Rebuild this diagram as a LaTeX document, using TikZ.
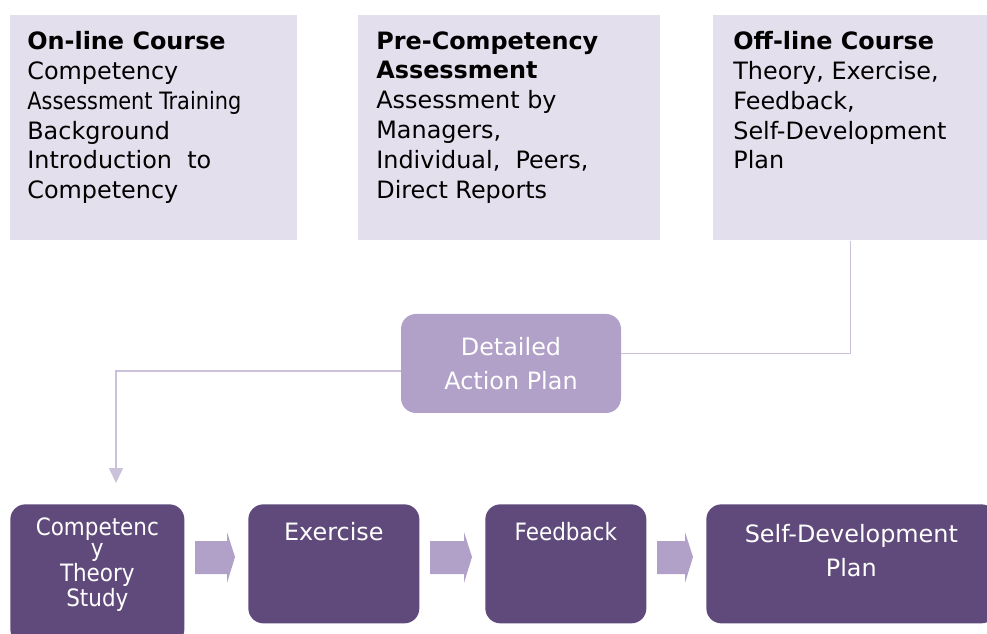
\documentclass[tikz,border=0pt]{standalone}
\usepackage{fontspec}
\setmainfont{DejaVu Sans}
\newfontfamily\condfont{DejaVu Sans Condensed}
\usetikzlibrary{positioning,arrows.meta,calc}
\definecolor{lavlight}{HTML}{E4DFEC}
\definecolor{lavmid}{HTML}{B1A0C7}
\definecolor{lavline}{HTML}{CCC1DA}
\definecolor{plumdark}{HTML}{604A7B}
\newlength\pxu
\setlength\pxu{0.02cm}
\tikzset{
  infobox/.style={fill=lavlight, anchor=north west, inner sep=0pt},
  infotext/.style={anchor=north west, inner sep=0pt, align=left, text=black,
    font=\fontsize{13.6}{17}\selectfont},
  planbox/.style={fill=lavmid, rounded corners=15\pxu, inner sep=0pt, text=white,
    align=center, minimum width=220\pxu, minimum height=99\pxu,
    font=\fontsize{13.6}{19.4}\selectfont},
  stepbox/.style={fill=plumdark, rounded corners=15\pxu, anchor=north west, inner sep=0pt},
  steptext/.style={inner sep=0pt, text=white, align=center, font=\fontsize{13.6}{19.6}\selectfont},
  link/.style={draw=lavline, line width=0.9pt},
}
\begin{document}
\begin{tikzpicture}[x=\pxu, y=-\pxu]
  \clip (0,0) rectangle (987,634);
  \fill[white] (0,0) rectangle (987,634);
  % top boxes
  \node[infobox, minimum width=287\pxu, minimum height=225\pxu] (online) at (10,15) {};
  \node[infobox, minimum width=302\pxu, minimum height=225\pxu] (precomp) at (358,15) {};
  \node[infobox, minimum width=274\pxu, minimum height=225\pxu] (offline) at (713,15) {};
  \node[infotext, below right=16\pxu and 17\pxu of online.north west] (onlinetxt)
    {\textbf{On-line Course}\\Competency\\{\condfont\resizebox{214\pxu}{\height}{Assessment Training}}\\Background\\Introduction~~to\\Competency};
  \node[infotext, below right=16\pxu and 18\pxu of precomp.north west] (precomptxt)
    {\textbf{Pre-Competency}\\\textbf{Assessment}\\Assessment by\\Managers,\\Individual,~~Peers,\\Direct Reports};
  \node[infotext, below right=16\pxu and 20\pxu of offline.north west] (offlinetxt)
    {\textbf{Off-line Course}\\Theory, Exercise,\\Feedback,\\Self-Development\\Plan};
  % action plan
  \node[planbox] (action) at (511,363.5) {Detailed\\Action Plan};
  % bottom steps
  \node[stepbox, minimum width=174\pxu, minimum height=140\pxu] (theory) at (10,504) {};
  \node[stepbox, minimum width=171\pxu, minimum height=119\pxu] (exercise) at (248,504) {};
  \node[stepbox, minimum width=161\pxu, minimum height=119\pxu] (feedback) at (485,504) {};
  \node[stepbox, minimum width=290\pxu, minimum height=119\pxu] (selfdev) at (706,504) {};
  \node[steptext, below=13\pxu of theory.north, font=\condfont\fontsize{13.6}{12.4}\selectfont] (theorytxt)
    {Competenc\\y\\Theory\\Study};
  \node[steptext, below=18\pxu of exercise.north] (exercisetxt) {Exercise};
  \node[steptext, below=18\pxu of feedback.north, font=\condfont\fontsize{13.6}{19.6}\selectfont] (feedbacktxt) {Feedback};
  \node[steptext, below=20\pxu of selfdev.north] (selfdevtxt) {Self-Development\\Plan};
  % connectors
  \coordinate (theorytip) at (116,483);
  \draw[link] (offline.south) |- ([yshift=10\pxu]action.east);
  \draw[link, -{Triangle[width=0.28cm, length=0.3cm]}] ([yshift=-7.5\pxu]action.west) -| (theorytip);
  % chevrons
  \foreach \xa/\xb in {184/248, 419/485, 646/706}{
    \fill[lavmid] (\xa+11,541) -- (\xb-21,541) -- (\xb-21,532) -- (\xb-13,557)
      -- (\xb-21,583) -- (\xb-21,574) -- (\xa+11,574) -- cycle;
  }
\end{tikzpicture}
\end{document}
